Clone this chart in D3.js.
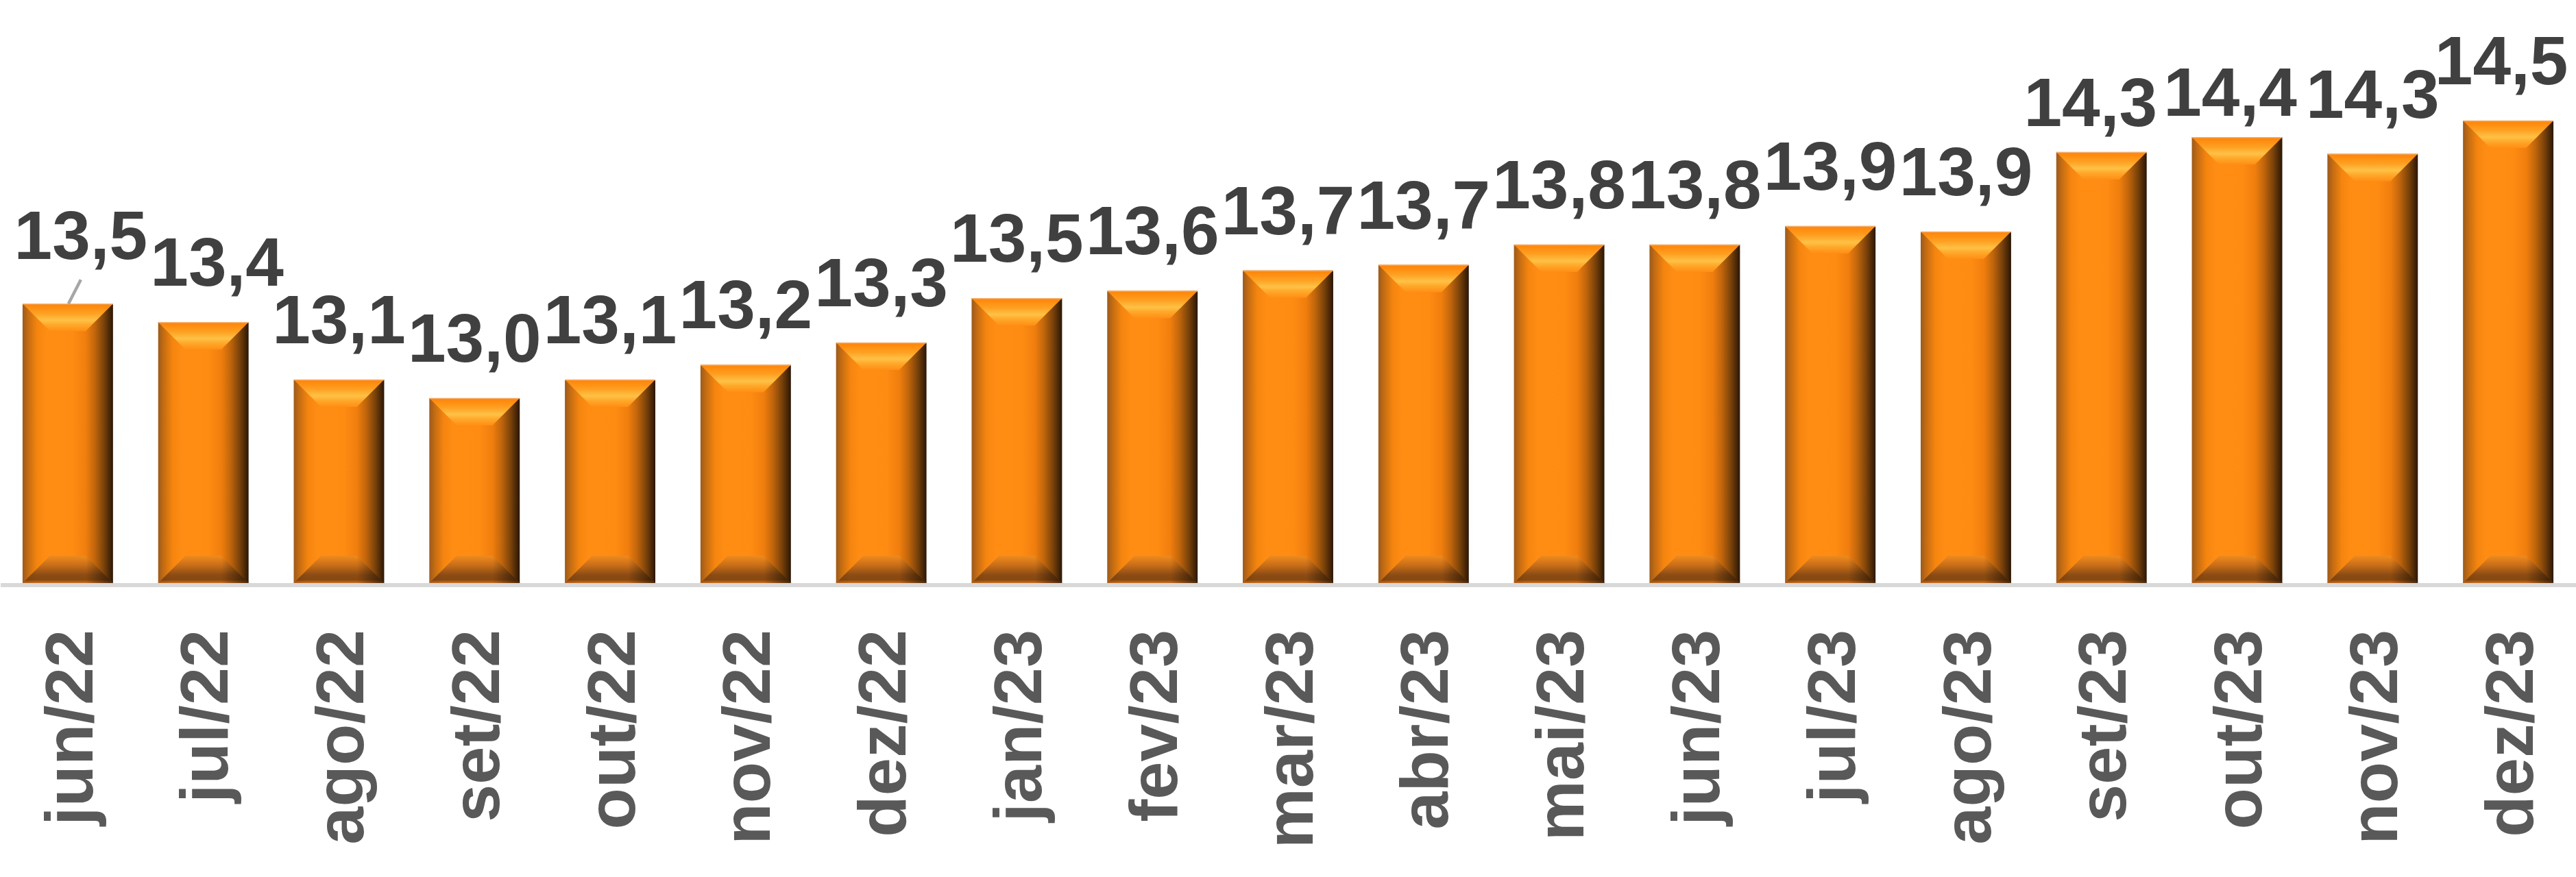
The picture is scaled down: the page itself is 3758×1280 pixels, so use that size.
<!DOCTYPE html>
<html>
<head>
<meta charset="utf-8">
<script src="https://cdn.jsdelivr.net/npm/d3@7"></script>
<style>
  html, body { margin: 0; padding: 0; background: #ffffff; }
  svg { display: block; }
</style>
</head>
<body>
<div id="chart"></div>
<script>
// ---- data ----
const categories = ["jun/22","jul/22","ago/22","set/22","out/22","nov/22","dez/22",
                    "jan/23","fev/23","mar/23","abr/23","mai/23","jun/23","jul/23",
                    "ago/23","set/23","out/23","nov/23","dez/23"];
const values = [13.51, 13.41, 13.10, 13.00, 13.10, 13.18, 13.30,
                13.54, 13.58, 13.69, 13.72, 13.83, 13.83, 13.93,
                13.90, 14.33, 14.41, 14.32, 14.50];
const yDomain = [12, 15];

// label nudges (layout only, pixels): [dx, dy]
const labelNudges = [[19,-12],[20,0],[0,0],[0,0],[0,0],[0,0],[0,0],
                     [0,0],[0,0],[0,0],[0,0],[0,0],[0,0],[0,0],
                     [0,0],[-16,15],[-10,22],[0,0],[-10,0]];

// ---- layout ----
const W = 3758, H = 1280;
const baseY = 851;
const svg = d3.select("#chart").append("svg")
  .attr("width", W).attr("height", H)
  .attr("viewBox", `0 0 ${W} ${H}`);

const x = d3.scaleBand().domain(categories).range([0, W])
  .paddingInner(0.333).paddingOuter(0.1665);
const y = d3.scaleLinear().domain(yDomain).range([baseY, 41]);

const fmt = d3.formatLocale({decimal: ",", thousands: ".", grouping: [3], currency: ["R$", ""]}).format(".1f");

// ---- gradients ----
const defs = svg.append("defs");
function grad(id, horiz, stops) {
  const g = defs.append("linearGradient").attr("id", id)
    .attr("x1", 0).attr("y1", 0).attr("x2", horiz ? 1 : 0).attr("y2", horiz ? 0 : 1);
  stops.forEach(([o, c, a]) => g.append("stop").attr("offset", o).attr("stop-color", c)
    .attr("stop-opacity", a === undefined ? 1 : a));
}
grad("body", true, [
  [0, "#9c5a1c"], [0.06, "#c46c12"], [0.16, "#f5850f"], [0.26, "#ff8d14"],
  [0.55, "#ff8c12"], [0.70, "#f07e0e"], [0.80, "#c0650c"], [0.90, "#7a420a"], [1, "#2a1606"]
]);
grad("topBevel", false, [
  [0, "#ff8206"], [0.35, "#ffa022"], [0.6, "#ffc246"], [0.75, "#ffaa2c"], [1, "#ff8e14"]
]);
grad("botBevel", false, [
  [0, "#f08a1e"], [0.35, "#c86e18"], [0.7, "#8c4c14"], [0.88, "#86480f"], [1, "#d07222"]
]);
grad("sideShade", true, [
  [0, "#000000", 0.1], [0.15, "#000000", 0], [0.7, "#000000", 0], [1, "#000000", 0.6]
]);

const inset = 40;

// ---- bars ----
const bars = svg.append("g").selectAll("g.bar")
  .data(categories.map((c, i) => ({c, v: values[i], i})))
  .join("g").attr("class", "bar");

bars.append("rect")
  .attr("x", d => x(d.c)).attr("y", d => y(d.v))
  .attr("width", x.bandwidth()).attr("height", d => baseY - y(d.v))
  .attr("fill", "url(#body)");

bars.append("path")
  .attr("d", d => {
    const x0 = x(d.c), x1 = x0 + x.bandwidth(), t = y(d.v);
    return `M${x0},${t}L${x1},${t}L${x1 - inset},${t + inset}L${x0 + inset},${t + inset}Z`;
  })
  .attr("fill", "url(#topBevel)");

bars.append("path")
  .attr("d", d => {
    const x0 = x(d.c), x1 = x0 + x.bandwidth(), b = baseY;
    return `M${x0 + inset},${b - inset}L${x1 - inset},${b - inset}L${x1},${b}L${x0},${b}Z`;
  })
  .attr("fill", "url(#botBevel)");

bars.append("path")
  .attr("d", d => {
    const x0 = x(d.c), x1 = x0 + x.bandwidth(), b = baseY;
    return `M${x0 + inset},${b - inset}L${x1 - inset},${b - inset}L${x1},${b}L${x0},${b}Z`;
  })
  .attr("fill", "url(#sideShade)");

bars.append("line")
  .attr("x1", d => x(d.c)).attr("x2", d => x(d.c) + x.bandwidth())
  .attr("y1", d => y(d.v) + 0.5).attr("y2", d => y(d.v) + 0.5)
  .attr("stroke", "#f2b070").attr("stroke-width", 1.5);

// ---- axis line ----
svg.append("line")
  .attr("x1", 1).attr("x2", W).attr("y1", baseY + 3).attr("y2", baseY + 3)
  .attr("stroke", "#d9d9d9").attr("stroke-width", 6);

// ---- leader line for the first (moved) label ----
{
  const d0 = categories[0];
  const cx = x(d0) + x.bandwidth() / 2;
  const t = y(values[0]);
  const [dx, dy] = labelNudges[0];
  svg.append("line")
    .attr("x1", cx + 1).attr("y1", t)
    .attr("x2", cx + dx).attr("y2", t - 53 + dy + 30)
    .attr("stroke", "#a6a6a6").attr("stroke-width", 4.5);
}

// ---- data labels ----
svg.append("g").selectAll("text")
  .data(categories.map((c, i) => ({c, v: values[i], i})))
  .join("text")
  .attr("x", d => x(d.c) + x.bandwidth() / 2 + labelNudges[d.i][0])
  .attr("y", d => y(d.v) - 53 + labelNudges[d.i][1])
  .attr("text-anchor", "middle")
  .attr("font-family", "'Liberation Sans', Arial, sans-serif")
  .attr("font-weight", "bold")
  .attr("font-size", 100)
  .attr("fill", "#404040")
  .text(d => fmt(d.v));

// ---- category labels ----
const xAxis = d3.axisBottom(x).tickSize(0).tickPadding(0);
const ax = svg.append("g").attr("transform", `translate(0,${baseY})`).call(xAxis);
ax.select(".domain").remove();
ax.selectAll(".tick text")
  .attr("font-family", "'Liberation Sans', Arial, sans-serif")
  .attr("font-weight", "bold")
  .attr("font-size", 99)
  .attr("fill", "#595959")
  .attr("text-anchor", "end")
  .attr("x", 0).attr("y", 0)
  .attr("dy", "0.36em")
  .attr("transform", "translate(0,68) rotate(-90)");
</script>
</body>
</html>
